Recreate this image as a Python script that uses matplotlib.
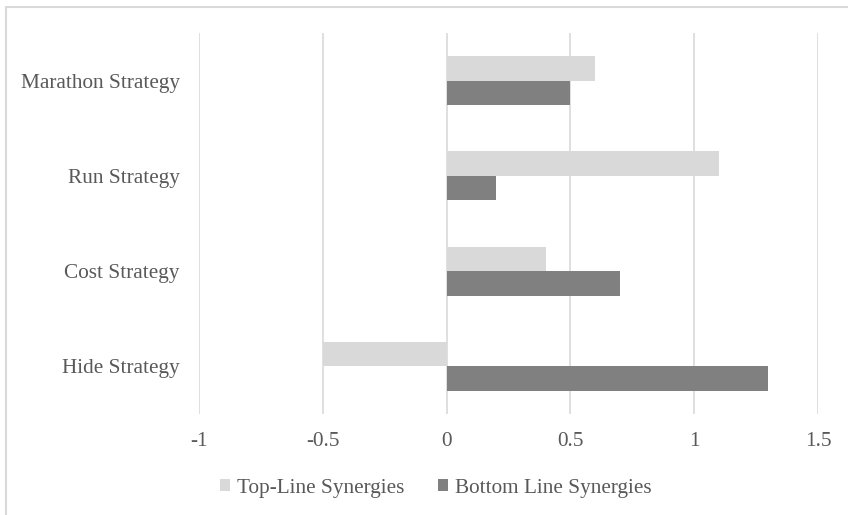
import matplotlib.pyplot as plt
from matplotlib.patches import Rectangle, Patch

categories = ["Hide Strategy", "Cost Strategy", "Run Strategy", "Marathon Strategy"]
top_line = [-0.5, 0.4, 1.1, 0.6]
bottom_line = [1.3, 0.7, 0.2, 0.5]
series_names = ["Top-Line Synergies", "Bottom Line Synergies"]
x_ticks = [-1, -0.5, 0, 0.5, 1, 1.5]
x_tick_labels = ["-1", "-0.5", "0", "0.5", "1", "1.5"]

plt.rcParams['font.family'] = ['Liberation Serif', 'DejaVu Serif']
TEXT = "#595959"
LIGHT = "#D9D9D9"
DARK = "#808080"
GRID = "#D9D9D9"
FS = 15.3

W, H = 848, 515
fig = plt.figure(figsize=(W / 100, H / 100), dpi=100)
ax = fig.add_axes([199 / W, 1 - 414 / H, (818 - 199) / W, (414 - 33) / H])

bar_h = 0.257
ys = list(range(len(categories)))
ax.barh([y + bar_h / 2 for y in ys], top_line, height=bar_h, color=LIGHT, zorder=3)
ax.barh([y - bar_h / 2 for y in ys], bottom_line, height=bar_h, color=DARK, zorder=3)

ax.set_xlim(-1, 1.5)
ax.set_ylim(-0.5, len(categories) - 0.5)
ax.set_xticks(x_ticks)
ax.set_xticklabels(x_tick_labels)
ax.set_yticks(ys)
ax.set_yticklabels(categories)
ax.tick_params(axis='both', length=0, labelsize=FS, colors=TEXT)
ax.tick_params(axis='x', pad=13)
ax.tick_params(axis='y', pad=14)
for s in ax.spines.values():
    s.set_visible(False)
ax.grid(axis='x', color=GRID, linewidth=1.2, zorder=0)
ax.grid(axis='y', visible=False)

handles = [Patch(facecolor=LIGHT), Patch(facecolor=DARK)]
fig.legend(handles, series_names, loc='center', bbox_to_anchor=(436 / W, 1 - 488 / H),
           ncol=2, frameon=False, fontsize=FS, labelcolor=TEXT,
           handlelength=0.47, handleheight=0.47, handletextpad=0.33, columnspacing=1.6)

# outer chart frame
fig.patches.append(Rectangle((6 / W, -0.1), 1.2, 1 - 7 / H + 0.1, transform=fig.transFigure,
                             fill=False, edgecolor="#D9D9D9", linewidth=1.5))

fig.savefig("out.png", dpi=100)
